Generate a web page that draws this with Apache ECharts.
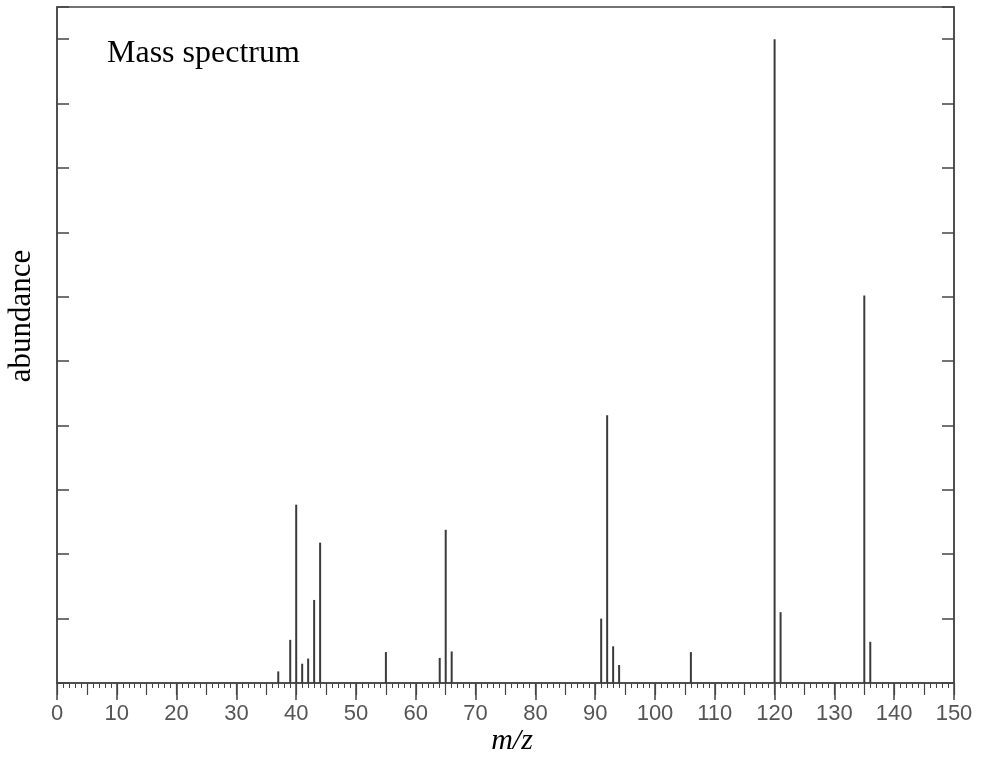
<!DOCTYPE html>
<html>
<head>
<meta charset="utf-8">
<script src="https://cdn.jsdelivr.net/npm/echarts@6/dist/echarts.min.js"></script>
<style>
html,body{margin:0;padding:0;background:#fff;}
#chart{width:981px;height:759px;}
</style>
</head>
<body>
<div id="chart"></div>
<script>
var mz = [37, 39, 40, 41, 42, 43, 44, 55, 64, 65, 66, 91, 92, 93, 94, 106, 120, 121, 135, 136];
var abundance = [1.8, 6.7, 27.7, 3.0, 3.8, 12.9, 21.8, 4.8, 3.9, 23.8, 4.9, 10, 41.6, 5.7, 2.8, 4.8, 100, 11, 60.2, 6.4];
var xTicks = [0, 10, 20, 30, 40, 50, 60, 70, 80, 90, 100, 110, 120, 130, 140, 150];

var chart = echarts.init(document.getElementById('chart'));
var lineCol = '#444';
var peaks = mz.map(function (m, i) { return [m, abundance[i]]; });

chart.setOption({
  animation: false,
  backgroundColor: '#fff',
  grid: { left: 57, right: 27, top: 7, bottom: 76, show: true, borderColor: lineCol, borderWidth: 1.5 },
  xAxis: [
    {
      type: 'value', min: 0, max: 150, interval: 10, position: 'bottom',
      axisLine: { show: true, onZero: false, lineStyle: { color: lineCol, width: 1.5 } },
      axisTick: { show: true, length: 17, lineStyle: { color: lineCol, width: 1.5 } },
      minorTick: { show: true, splitNumber: 10, length: 5, lineStyle: { color: lineCol, width: 1 } },
      axisLabel: {
        show: true, margin: 20, color: '#555', fontFamily: 'Liberation Sans', fontSize: 22,
        formatter: function (v) { return xTicks.indexOf(v) >= 0 ? String(v) : ''; }
      },
      splitLine: { show: false }, minorSplitLine: { show: false }
    },
    {
      type: 'value', min: 0, max: 150, interval: 5, position: 'bottom',
      axisLine: { show: false, onZero: false },
      axisTick: { show: true, length: 12, lineStyle: { color: lineCol, width: 1.2 } },
      axisLabel: { show: false }, splitLine: { show: false }
    }
  ],
  yAxis: [
    {
      type: 'value', min: 0, max: 105, interval: 10, position: 'left',
      axisLine: { show: true, onZero: false, lineStyle: { color: lineCol, width: 1.5 } },
      axisTick: { show: true, inside: true, length: 12, lineStyle: { color: lineCol, width: 1.5 } },
      axisLabel: { show: false }, splitLine: { show: false }
    },
    {
      type: 'value', min: 0, max: 105, interval: 10, position: 'right',
      axisLine: { show: true, onZero: false, lineStyle: { color: lineCol, width: 1.5 } },
      axisTick: { show: true, inside: true, length: 12, lineStyle: { color: lineCol, width: 1.5 } },
      axisLabel: { show: false }, splitLine: { show: false }
    }
  ],
  graphic: [
    { type: 'text', left: 107, top: 38, style: { text: 'Mass spectrum', font: '32px "Liberation Serif"', fill: '#000' } },
    { type: 'text', x: 22, y: 316, rotation: Math.PI / 2, style: { text: 'abundance', font: '31px "Liberation Serif"', fill: '#000', align: 'center', verticalAlign: 'middle' } },
    { type: 'text', x: 512, y: 741, style: { text: 'm/z', font: 'italic 30px "Liberation Serif"', fill: '#000', align: 'center', verticalAlign: 'middle' } }
  ],
  series: [{
    type: 'custom',
    xAxisIndex: 0, yAxisIndex: 0,
    data: peaks,
    renderItem: function (params, api) {
      var x = api.value(0), y = api.value(1);
      var p0 = api.coord([x, 0]), p1 = api.coord([x, y]);
      return { type: 'line', shape: { x1: p0[0], y1: p0[1], x2: p1[0], y2: p1[1] }, style: { stroke: '#3a3a3a', lineWidth: 2 } };
    }
  }]
});
</script>
</body>
</html>
